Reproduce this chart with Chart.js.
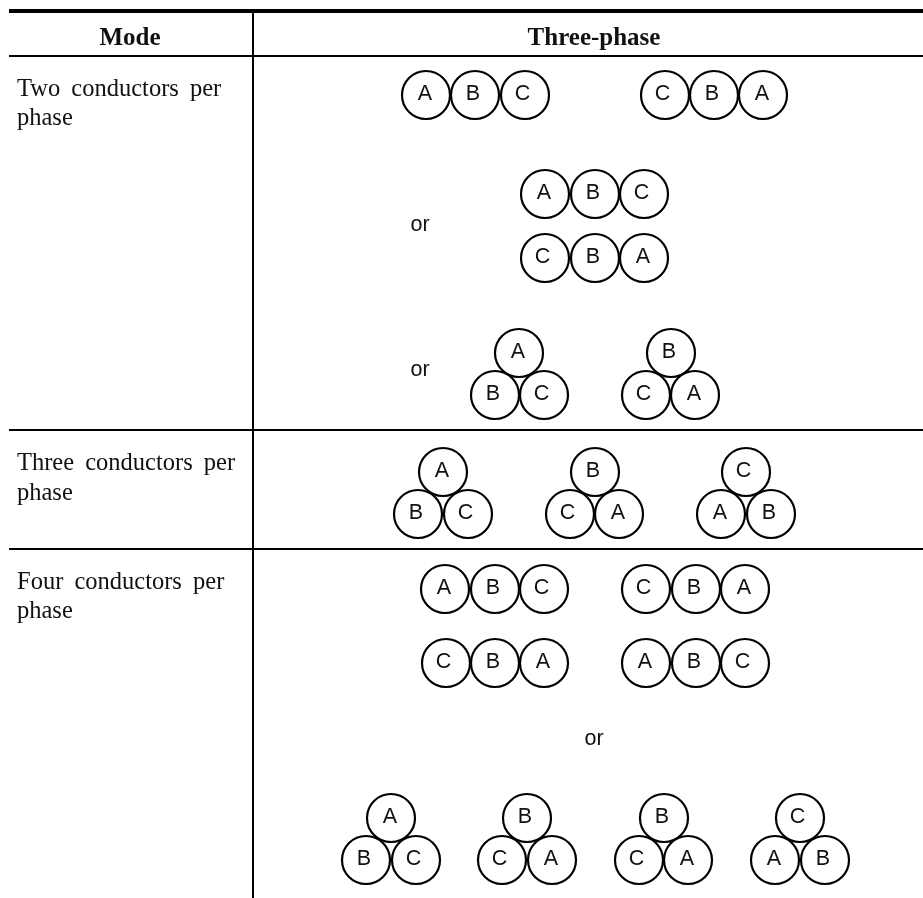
<!DOCTYPE html>
<html>
<head>
<meta charset="utf-8">
<title>Three-phase conductor arrangement</title>
<script src="https://cdn.jsdelivr.net/npm/chart.js@4"></script>
<style>
  html, body { margin: 0; padding: 0; background: #fff; }
  canvas { display: block; }
</style>
</head>
<body>
<canvas id="conductors" width="923" height="898"></canvas>
<script>
// conductors, one entry per circle
var phaseLabels = [
  "A","B","C", "C","B","A",
  "A","B","C", "C","B","A",
  "A","B","C", "B","C","A",
  "A","B","C", "B","C","A", "C","A","B",
  "A","B","C", "C","B","A",
  "C","B","A", "A","B","C",
  "A","B","C", "B","C","A", "B","C","A", "C","A","B"
];
var phaseX = [
  426,475,525, 665,714,763,
  545,595,644, 545,595,644,
  519,495,544, 671,646,695,
  443,418,468, 595,570,619, 746,721,771,
  445,495,544, 646,696,745,
  446,495,544, 646,696,745,
  391,366,416, 527,502,552, 664,639,688, 800,775,825
];
var phaseY = [
  95,95,95, 95,95,95,
  194,194,194, 258,258,258,
  353,395,395, 353,395,395,
  472,514,514, 472,514,514, 472,514,514,
  589,589,589, 589,589,589,
  663,663,663, 663,663,663,
  818,860,860, 818,860,860, 818,860,860, 818,860,860
];

// table rules
var topRuleX = [9, 923];
var topRuleY = [11, 11];
var headerRuleX = [9, 923];
var headerRuleY = [56, 56];
var rowRule1Y = [430, 430];
var rowRule2Y = [549, 549];
var columnRuleX = [253, 253];
var columnRuleY = [13, 898];

// table text
var headerText = ["Mode", "Three-phase"];
var headerX = [130, 594];
var headerY = [39, 39];
var modeText = ["Two conductors per", "phase", "Three conductors per", "phase", "Four conductors per", "phase"];
var modeX = [17, 17, 17, 17, 17, 17];
var modeY = [90, 119, 463.5, 493.5, 582.5, 612];
var orX = [420, 420, 594];
var orY = [225.5, 370.5, 739.5];

function pairs(xs, ys) {
  return xs.map(function(x, i) { return { x: x, y: ys[i] }; });
}

function rule(xs, ys, width) {
  return {
    data: pairs(xs, ys),
    showLine: true,
    borderColor: "#000",
    borderWidth: width,
    pointRadius: 0
  };
}

// the letters are not quite centred in the circles in the original
var letterNudge = { A: -1, B: -2, C: -2.5 };

var tableText = {
  id: "tableText",
  afterDatasetsDraw: function(chart) {
    var ctx = chart.ctx;
    var sx = chart.scales.x;
    var sy = chart.scales.y;
    ctx.save();
    ctx.fillStyle = "#111";
    ctx.textBaseline = "middle";

    ctx.font = '21.5px "Liberation Sans"';
    ctx.textAlign = "center";
    phaseLabels.forEach(function(t, i) {
      ctx.fillText(t, sx.getPixelForValue(phaseX[i]) + letterNudge[t], sy.getPixelForValue(phaseY[i]) - 1);
    });
    orX.forEach(function(x, i) {
      ctx.fillText("or", sx.getPixelForValue(x), sy.getPixelForValue(orY[i]));
    });

    ctx.font = 'bold 25px "Liberation Serif"';
    headerText.forEach(function(t, i) {
      ctx.fillText(t, sx.getPixelForValue(headerX[i]), sy.getPixelForValue(headerY[i]));
    });

    ctx.font = '24.5px "Liberation Serif"';
    ctx.textAlign = "left";
    ctx.wordSpacing = "5px";
    modeText.forEach(function(t, i) {
      ctx.fillText(t, sx.getPixelForValue(modeX[i]), sy.getPixelForValue(modeY[i]));
    });
    ctx.restore();
  }
};

var ctx = document.getElementById("conductors").getContext("2d");
var myChart = new Chart(ctx, {
  type: "scatter",
  plugins: [tableText],
  data: {
    datasets: [
      rule(topRuleX, topRuleY, 4),
      rule(headerRuleX, headerRuleY, 2),
      rule(headerRuleX, rowRule1Y, 2),
      rule(headerRuleX, rowRule2Y, 2),
      rule(columnRuleX, columnRuleY, 2),
      {
        label: "Conductors",
        data: pairs(phaseX, phaseY),
        backgroundColor: "rgba(0,0,0,0)",
        borderColor: "#000",
        borderWidth: 2.2,
        pointRadius: 24
      }
    ]
  },
  options: {
    responsive: false,
    animation: false,
    layout: { padding: 0, autoPadding: false },
    plugins: {
      legend: { display: false },
      tooltip: { enabled: false }
    },
    scales: {
      x: { type: "linear", min: 0, max: 923, display: false },
      y: { type: "linear", min: 0, max: 898, reverse: true, display: false }
    }
  }
});
</script>
</body>
</html>
